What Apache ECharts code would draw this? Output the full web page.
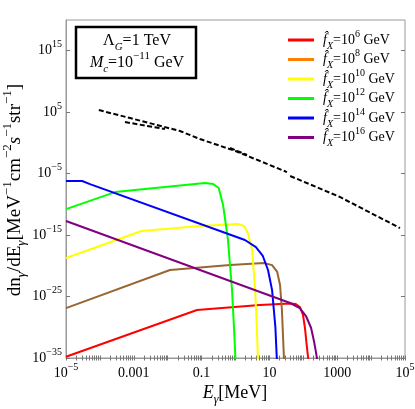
<!DOCTYPE html>
<html>
<head>
<meta charset="utf-8">
<script src="https://cdn.jsdelivr.net/npm/echarts@6/dist/echarts.min.js"></script>
<style>html,body{margin:0;padding:0;background:#fff}#main{width:415px;height:409px}</style>
</head>
<body>
<div id="main"></div>
<script>
// legend: f_X = 10^n GeV
var fxExps = ['6', '8', '10', '12', '14', '16'];
var lineColors = ['#ff0000', '#996633', '#ffff00', '#00ff00', '#0000ff', '#800080'];
var legendColors = ['#ff0000', '#ff8000', '#ffff00', '#00ff00', '#0000ff', '#800080'];

// photon spectra, [E (MeV), dn/dE]
var fx6 = [[1e-5, 1.6e-35], [0.073, 6.5e-28], [5.2, 4.2e-27], [41, 7.4e-27], [60, 6e-27], [79, 2e-27], [98, 1e-28], [112, 7.6e-31], [124, 2.8e-33], [141, 5e-36]];
var fx8 = [[1e-5, 1.3e-27], [0.0117, 2.1e-21], [0.69, 1.3e-20], [6.9, 2.9e-20], [12, 1.3e-20], [17, 1e-21], [20.6, 7.6e-24], [23.4, 6.5e-28], [27, 5e-36]];
var fx10 = [[1e-5, 1.9e-19], [1.7e-3, 4.6e-15], [0.089, 3e-14], [1.17, 6.3e-14], [1.8, 3e-14], [2.3, 2.2e-15], [3.1, 3.7e-18], [3.8, 1.1e-24], [4.3, 3.5e-31], [4.6, 5e-36]];
var fx12 = [[1e-5, 1.7e-11], [2.8e-4, 1e-8], [0.126, 3e-7], [0.22, 2e-7], [0.32, 4.6e-8], [0.43, 7.9e-11], [0.6, 1.6e-16], [0.79, 1.1e-24], [0.91, 3.5e-31], [1.0, 5e-36]];
var fx14 = [[1e-5, 6.3e-7], [3e-5, 6.3e-7], [5.1e-5, 2e-7], [1.9, 1.6e-16], [4, 1.1e-17], [6.4, 4e-19], [9.1, 2.1e-21], [12, 1.1e-24], [15, 1.1e-30], [16.6, 5e-36]];
var fx16 = [[1e-5, 1.95e-13], [41, 8.9e-27], [79, 1.3e-27], [120, 6.8e-29], [170, 7.6e-31], [209, 4e-33], [236, 9e-35], [263, 2.2e-36]];

// observed diffuse background (dashed black)
var bgLow = [[9.3e-5, 2.2e5], [7.8e-4, 1.1e4], [0.023, 87], [0.089, 4.3], [1.0, 4.8e-2], [33, 1.8e-5]];
var bgHigh = [[41, 4.1e-6], [1.2e3, 1.6e-9], [7.1e4, 1.4e-14]];
var bgExtraA = [[5.5e-4, 2.5e3], [8.3e-3, 1.8e2]];
var bgExtraB = [[0.69, 0.15], [2.2, 1.1e-2]];

// ticks
var xLabelVals = [1e-5, 1e-3, 0.1, 10, 1000, 1e5];
var xLabelText = ['{b|10}{p|\u22125}', '{b|0.001}', '{b|0.1}', '{b|10}', '{b|1000}', '{b|10}{p|5}'];
var yLabelVals = [1e-35, 1e-25, 1e-15, 1e-5, 1e5, 1e15];
var yLabelText = ['{b|10}{p|\u221235}', '{b|10}{p|\u221225}', '{b|10}{p|\u221215}', '{b|10}{p|\u22125}', '{b|10}{p|5}', '{b|10}{p|15}'];

var xTickVals = [];
for (var d = -5; d < 5; d++) {
  for (var k = 1; k < 10; k++) xTickVals.push(k * Math.pow(10, d));
}
xTickVals.push(1e5);

var F = '"Liberation Serif", "DejaVu Serif", serif';
function richSet(fs) {
  var sm = Math.round(fs * 0.68);
  return {
    b: {fontFamily: F, fontSize: fs, lineHeight: fs + 8, verticalAlign: 'middle', color: '#000'},
    i: {fontFamily: F, fontSize: fs, fontStyle: 'italic', lineHeight: fs + 8, verticalAlign: 'middle', color: '#000'},
    p: {fontFamily: F, fontSize: sm, lineHeight: sm + 4, verticalAlign: 'top', color: '#000'},
    s: {fontFamily: F, fontSize: sm, lineHeight: sm + 4, verticalAlign: 'bottom', color: '#000'},
    si: {fontFamily: F, fontSize: sm, fontStyle: 'italic', lineHeight: sm + 4, verticalAlign: 'bottom', color: '#000'}
  };
}
var legendRich = richSet(14);
legendRich.i.padding = [0, 0, 0, 4];

function pick(vals, texts) {
  return function (v) {
    for (var i = 0; i < vals.length; i++) {
      if (Math.abs(Math.log10(v) - Math.log10(vals[i])) < 1e-6) return texts[i];
    }
    return '';
  };
}

var spectra = [fx6, fx8, fx10, fx12, fx14, fx16];
var series = spectra.map(function (s, i) {
  return {
    name: fxExps[i], type: 'line', data: s, symbol: 'none',
    itemStyle: {color: lineColors[i]},
    lineStyle: {color: lineColors[i], width: 2}
  };
});
[bgLow, bgHigh, bgExtraA, bgExtraB].forEach(function (s) {
  series.push({
    type: 'line', data: s, symbol: 'none', z: 3,
    lineStyle: {color: '#000', width: 2, type: [5, 2.5]}
  });
});

var gray = '#999';
var tickGray = '#777';
var myChart = echarts.init(document.getElementById('main'));
myChart.setOption({
  animation: false,
  grid: {left: 66, right: 10, top: 20, bottom: 51, show: true, borderColor: gray, borderWidth: 1,
    containLabel: false, outerBoundsMode: 'none'},
  xAxis: [{
    type: 'log', min: 1e-5, max: 1e5,
    axisLine: {show: true, lineStyle: {color: gray}},
    axisTick: {show: true, inside: true, length: 2.5, lineStyle: {color: tickGray}, customValues: xTickVals},
    axisLabel: {customValues: xLabelVals, formatter: pick(xLabelVals, xLabelText), rich: richSet(14), margin: 4, hideOverlap: false, showMinLabel: true, showMaxLabel: true},
    splitLine: {show: false}
  }, {
    type: 'log', min: 1e-5, max: 1e5, position: 'top',
    axisLine: {show: false},
    axisTick: {show: true, inside: true, length: 2.5, lineStyle: {color: tickGray}, customValues: xTickVals},
    axisLabel: {show: false}, splitLine: {show: false}
  }],
  yAxis: [{
    type: 'log', min: 1e-35, max: 1e20,
    axisLine: {show: true, lineStyle: {color: gray}},
    axisTick: {show: true, inside: true, length: 4, lineStyle: {color: tickGray}, customValues: yLabelVals},
    axisLabel: {customValues: yLabelVals, formatter: pick(yLabelVals, yLabelText), rich: richSet(14), margin: 4},
    splitLine: {show: false}
  }, {
    type: 'log', min: 1e-35, max: 1e20, position: 'right',
    axisLine: {show: false},
    axisTick: {show: true, inside: true, length: 4, lineStyle: {color: tickGray}, customValues: yLabelVals},
    axisLabel: {show: false}, splitLine: {show: false}
  }],
  legend: {
    orient: 'vertical', left: 288, top: 29, padding: 0,
    icon: 'rect', itemWidth: 26, itemHeight: 3, itemGap: -2.5,
    data: fxExps.map(function (n, i) { return {name: n, itemStyle: {color: legendColors[i]}}; }),
    formatter: function (n) { return '{i|f\u0302}{si|X}{b|=10}{p|' + n + '}{b| GeV}'; },
    textStyle: {rich: legendRich}
  },
  graphic: [{
    type: 'rect', shape: {x: 76, y: 27, width: 120, height: 51},
    style: {fill: '#fff', stroke: '#000', lineWidth: 2.5}, z: 10
  }, {
    type: 'text', x: 137, y: 41, z: 11,
    style: {text: '{b|\u039b}{si|G}{b|=1 TeV}', rich: richSet(16), align: 'center', verticalAlign: 'middle'}
  }, {
    type: 'text', x: 137, y: 63, z: 11,
    style: {text: '{i|M}{si|c}{b|=10}{p|\u221211}{b| GeV}', rich: richSet(16), align: 'center', verticalAlign: 'middle'}
  }, {
    // x axis title
    type: 'text', x: 235, y: 393,
    style: {text: '{i|E}{si|\u03b3}{b|[MeV]}', rich: richSet(18), align: 'center', verticalAlign: 'middle'}
  }, {
    // y axis title
    type: 'text', x: 15, y: 190, rotation: Math.PI / 2,
    style: {text: '{b|dn}{si|\u03b3}{b|/dE}{si|\u03b3}{b|[MeV}{p|\u22121}{b|cm}{p|\u22122}{i|s}{p|\u22121}{b|str}{p|\u22121}{b|]}',
      rich: richSet(19), align: 'center', verticalAlign: 'middle'}
  }],
  series: series
});
</script>
</body>
</html>
